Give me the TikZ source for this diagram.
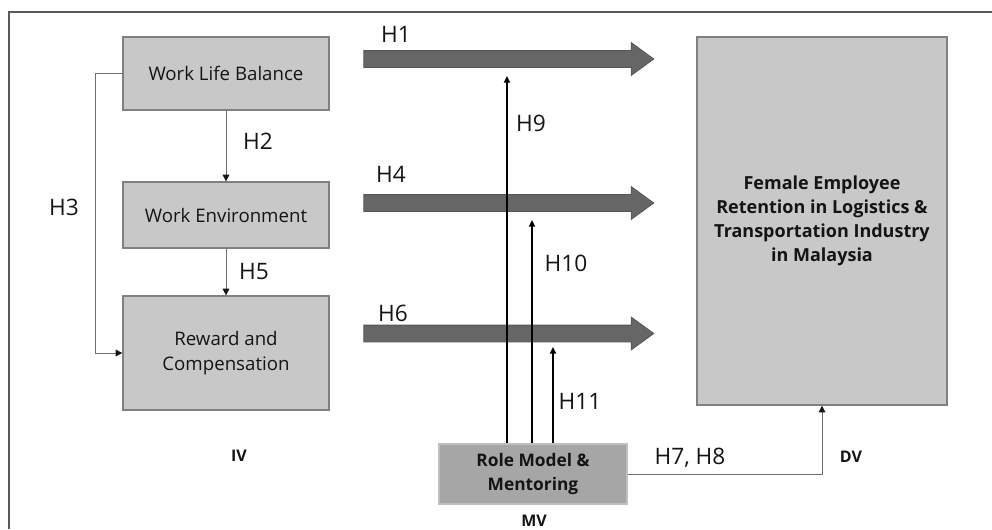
\documentclass[tikz,border=0pt]{standalone}
\usepackage{fontspec}
\setmainfont{Open Sans}
\usepackage{tikz}
\usetikzlibrary{arrows.meta, positioning, calc, shapes.arrows}
\definecolor{boxgray}{HTML}{C8C8C8}
\definecolor{boxedge}{HTML}{808080}
\definecolor{mvgray}{HTML}{A6A6A6}
\definecolor{mvedge}{HTML}{BFBFBF}
\definecolor{arrowgray}{HTML}{666666}
\definecolor{arrowedge}{HTML}{555555}
\definecolor{linegray}{HTML}{6E6E6E}
\definecolor{framegray}{HTML}{595959}
\definecolor{txt}{HTML}{141414}

\begin{document}
\begin{tikzpicture}[
    x=0.75pt, y=-0.75pt,
    ivbox/.style={
        draw=boxedge, fill=boxgray, line width=1pt,
        minimum width=154.5pt, align=center, inner sep=0pt,
        font=\fontsize{14}{18.75}\selectfont, text=txt
    },
    dvbox/.style={
        draw=boxedge, fill=boxgray, line width=1pt,
        minimum width=187.5pt, minimum height=276pt, align=center, inner sep=0pt,
        font=\bfseries\fontsize{13.5}{18}\selectfont, text=txt
    },
    mvbox/.style={
        draw=mvedge, fill=mvgray, line width=1pt,
        minimum width=141pt, minimum height=45pt, align=center, inner sep=0pt,
        font=\bfseries\fontsize{13}{18}\selectfont, text=txt
    },
    bigarrow/.style={
        single arrow, draw=arrowedge, fill=arrowgray, line width=0.6pt,
        inner sep=6pt, single arrow head extend=6pt,
        single arrow tip angle=72, minimum height=217.5pt
    },
    hlabel/.style={font=\fontsize{17}{20}\selectfont, text=txt, inner sep=0pt, text depth=0pt},
    tag/.style={font=\bfseries\fontsize{12}{14}\selectfont, text=txt, inner sep=0pt, text depth=0pt},
    thinarrow/.style={-{Triangle[length=5pt, width=5pt, color=txt]}, draw=linegray, line width=0.75pt},
    modarrow/.style={-{Triangle[length=5pt, width=4.5pt]}, draw=black, line width=1.3pt},
    >=Stealth
]
\useasboundingbox (0,0) rectangle (992,529);

% --- Frame ---
\draw[framegray, line width=0.8pt] (9,529) -- (9,12) -- (992,12);

% --- Independent variables ---
\node[ivbox, minimum height=54.75pt] (wlb) at (226, 73.5) {Work Life Balance};
\node[ivbox, minimum height=49.5pt] (we) at (226, 215) {Work Environment};
\node[ivbox, minimum height=85.5pt] (rc) at (226, 353) {Reward and\\Compensation};

% --- Dependent variable ---
\node[dvbox] (dv) at (822, 221) {%
    Female Employee\\
    Retention in Logistics \&\\
    Transportation Industry\\
    in Malaysia%
};

% --- Moderating variable ---
\node[mvbox] (mv) at (533, 474) {Role Model \&\\Mentoring};

% --- Direct effects (block arrows) ---
\foreach \n/\y in {a1/59, a4/203, a6/333.5} {
    \node[bigarrow] (\n) at (503, \y) {};
}

% --- Links between IVs ---
\draw[thinarrow] (wlb) -- (we);
\draw[thinarrow] (we) -- (rc);
\draw[thinarrow] (wlb.west) -- ++(-27,0) |- (rc.west);

% --- Moderation lines ---
\foreach \n/\x/\y in {t9/507/76, t10/532/220, t11/553/347} {
    \coordinate (\n) at (\x, \y);
    \draw[modarrow] (mv.north -| \n) -- (\n);
}

% --- MV -> DV ---
\draw[thinarrow] (mv.east) -| (dv.south);

% --- Hypothesis labels ---
\node[hlabel] (h1) at (396, 34) {H1};
\node[hlabel] (h2) at (258, 141) {H2};
\node[hlabel] (h3) at (64, 207) {H3};
\node[hlabel] (h4) at (391, 174) {H4};
\node[hlabel] (h5) at (254, 271) {H5};
\node[hlabel] (h6) at (393, 313) {H6};
\node[hlabel] (h9) at (531, 123) {H9};
\node[hlabel] (h10) at (566, 263) {H10};
\node[hlabel] (h11) at (580, 401) {H11};
\node[hlabel] (h78) at (690, 456) {H7, H8};

% --- Variable tags ---
\node[tag] (iv) at (239, 456) {IV};
\node[tag] (dvtag) at (851, 457) {DV};
\node[tag] (mvtag) at (534, 521) {MV};

\end{tikzpicture}
\end{document}
